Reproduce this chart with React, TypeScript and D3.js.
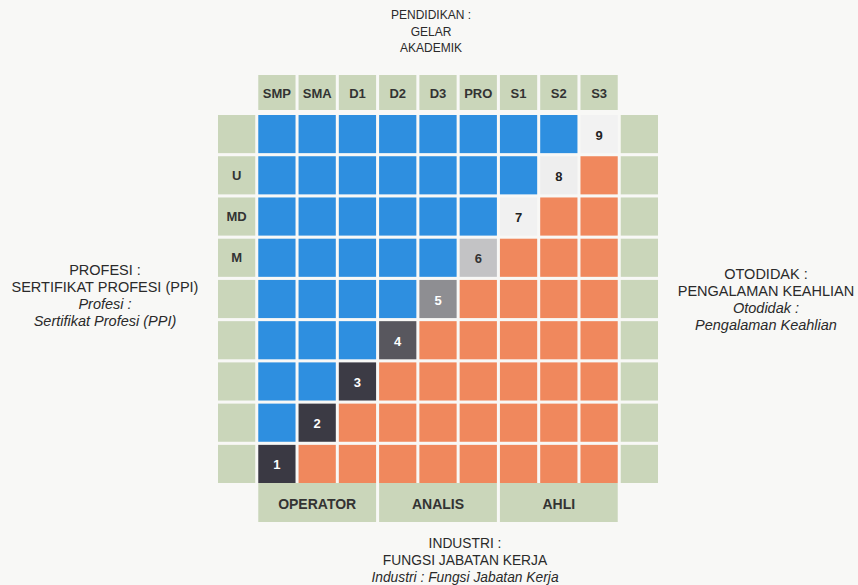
import React from "react";
import * as d3 from "d3";

const columns = ["SMP", "SMA", "D1", "D2", "D3", "PRO", "S1", "S2", "S3"];
const rowLabels = ["", "U", "MD", "M", "", "", "", "", ""]; // top to bottom
const levels = [9, 8, 7, 6, 5, 4, 3, 2, 1]; // diagonal level per row, top to bottom
const levelFill = ["#3a3943", "#3b3a44", "#3c3b45", "#58575e", "#8e8e92", "#c3c3c5", "#f1f1f1", "#eeeeee", "#f2f2f2"];
const levelText = ["#fff", "#fff", "#fff", "#fff", "#fff", "#333", "#222", "#222", "#222"];
const footerGroups = ["OPERATOR", "ANALIS", "AHLI"];
const footerSpan = [3, 3, 3];
const topTitle = ["PENDIDIKAN :", "GELAR", "AKADEMIK"];
const leftTitle = ["PROFESI :", "SERTIFIKAT PROFESI (PPI)", "Profesi :", "Sertifikat Profesi (PPI)"];
const rightTitle = ["OTODIDAK :", "PENGALAMAN KEAHLIAN", "Otodidak :", "Pengalaman Keahlian"];
const bottomTitle = ["INDUSTRI :", "FUNGSI JABATAN KERJA", "Industri : Fungsi Jabatan Kerja"];

const BLUE = "#2e8fe0";
const ORANGE = "#f0885d";
const GREEN = "#cad6ba";
const FONT = "'Liberation Sans', Arial, sans-serif";

export default function App() {
  const W = 858, H = 585;
  const colDomain = ["L", ...columns, "R"];
  const x = d3.scaleBand<string>().domain(colDomain).range([218, 658]).paddingInner(0.075);
  const rowIdx = d3.range(9).map(String);
  const y = d3.scaleBand<string>().domain(rowIdx).range([115, 483]).paddingInner(0.075);
  const bw = x.bandwidth();
  const bh = y.bandwidth();
  const headerY = 75, headerH = 35;
  const footerY = 483, footerH = 39;

  const cells: React.ReactNode[] = [];
  rowIdx.forEach((ri, r) => {
    const diag = 8 - r;
    cells.push(<rect key={`L${r}`} x={x("L")} y={y(ri)} width={bw} height={bh} fill={GREEN} />);
    cells.push(<rect key={`R${r}`} x={x("R")} y={y(ri)} width={bw} height={bh} fill={GREEN} />);
    if (rowLabels[r]) {
      cells.push(
        <text key={`RL${r}`} x={(x("L") as number) + bw / 2} y={(y(ri) as number) + bh / 2} textAnchor="middle"
          dominantBaseline="central" fontFamily={FONT} fontWeight="bold" fontSize={13} fill="#333">{rowLabels[r]}</text>
      );
    }
    columns.forEach((c, ci) => {
      let fill = ci < diag ? BLUE : ORANGE;
      const isDiag = ci === diag;
      const li = levels[r] - 1;
      if (isDiag) fill = levelFill[li];
      cells.push(<rect key={`c${r}-${ci}`} x={x(c)} y={y(ri)} width={bw} height={bh} fill={fill} />);
      if (isDiag) {
        cells.push(
          <text key={`t${r}-${ci}`} x={(x(c) as number) + bw / 2} y={(y(ri) as number) + bh / 2 + 1} textAnchor="middle"
            dominantBaseline="central" fontFamily={FONT} fontWeight="bold" fontSize={13} fill={levelText[li]}>{levels[r]}</text>
        );
      }
    });
  });

  let start = 0;
  const footers = footerGroups.map((g, i) => {
    const c0 = columns[start];
    const c1 = columns[start + footerSpan[i] - 1];
    start += footerSpan[i];
    const x0 = x(c0) as number;
    const x1 = (x(c1) as number) + bw;
    return (
      <g key={g}>
        <rect x={x0} y={footerY} width={x1 - x0} height={footerH} fill={GREEN} />
        <text x={(x0 + x1) / 2} y={footerY + footerH / 2 + 1} textAnchor="middle" dominantBaseline="central"
          fontFamily={FONT} fontWeight="bold" fontSize={14} fill="#333">{g}</text>
      </g>
    );
  });

  const titleBlock = (lines: string[], cx: number, y0: number, dy: number, italicFrom: number, key: string, size = 12.5) => (
    <g key={key}>
      {lines.map((t, i) => (
        <text key={i} x={cx} y={y0 + i * dy} textAnchor="middle" dominantBaseline="central" fontFamily={FONT}
          fontSize={size} fontStyle={i >= italicFrom ? "italic" : "normal"} fill="#2a2a2a">{t}</text>
      ))}
    </g>
  );

  return (
    <svg width={W} height={H} style={{ position: "absolute", left: 0, top: 0, background: "#f8f8f6" }}>
      <rect width={W} height={H} fill="#f8f8f6" />
      {columns.map((c) => (
        <g key={c}>
          <rect x={x(c)} y={headerY} width={bw} height={headerH} fill={GREEN} />
          <text x={(x(c) as number) + bw / 2} y={headerY + headerH / 2 + 1} textAnchor="middle" dominantBaseline="central"
            fontFamily={FONT} fontWeight="bold" fontSize={13} fill="#333">{c}</text>
        </g>
      ))}
      {cells}
      {footers}
      {titleBlock(topTitle, 431, 15, 16.5, 99, "top", 12)}
      {titleBlock(leftTitle, 105, 270, 17, 2, "left", 14.5)}
      {titleBlock(rightTitle, 766, 274, 17, 2, "right", 14.5)}
      {titleBlock(bottomTitle, 465, 543, 17, 2, "bottom", 13.8)}
    </svg>
  );
}
